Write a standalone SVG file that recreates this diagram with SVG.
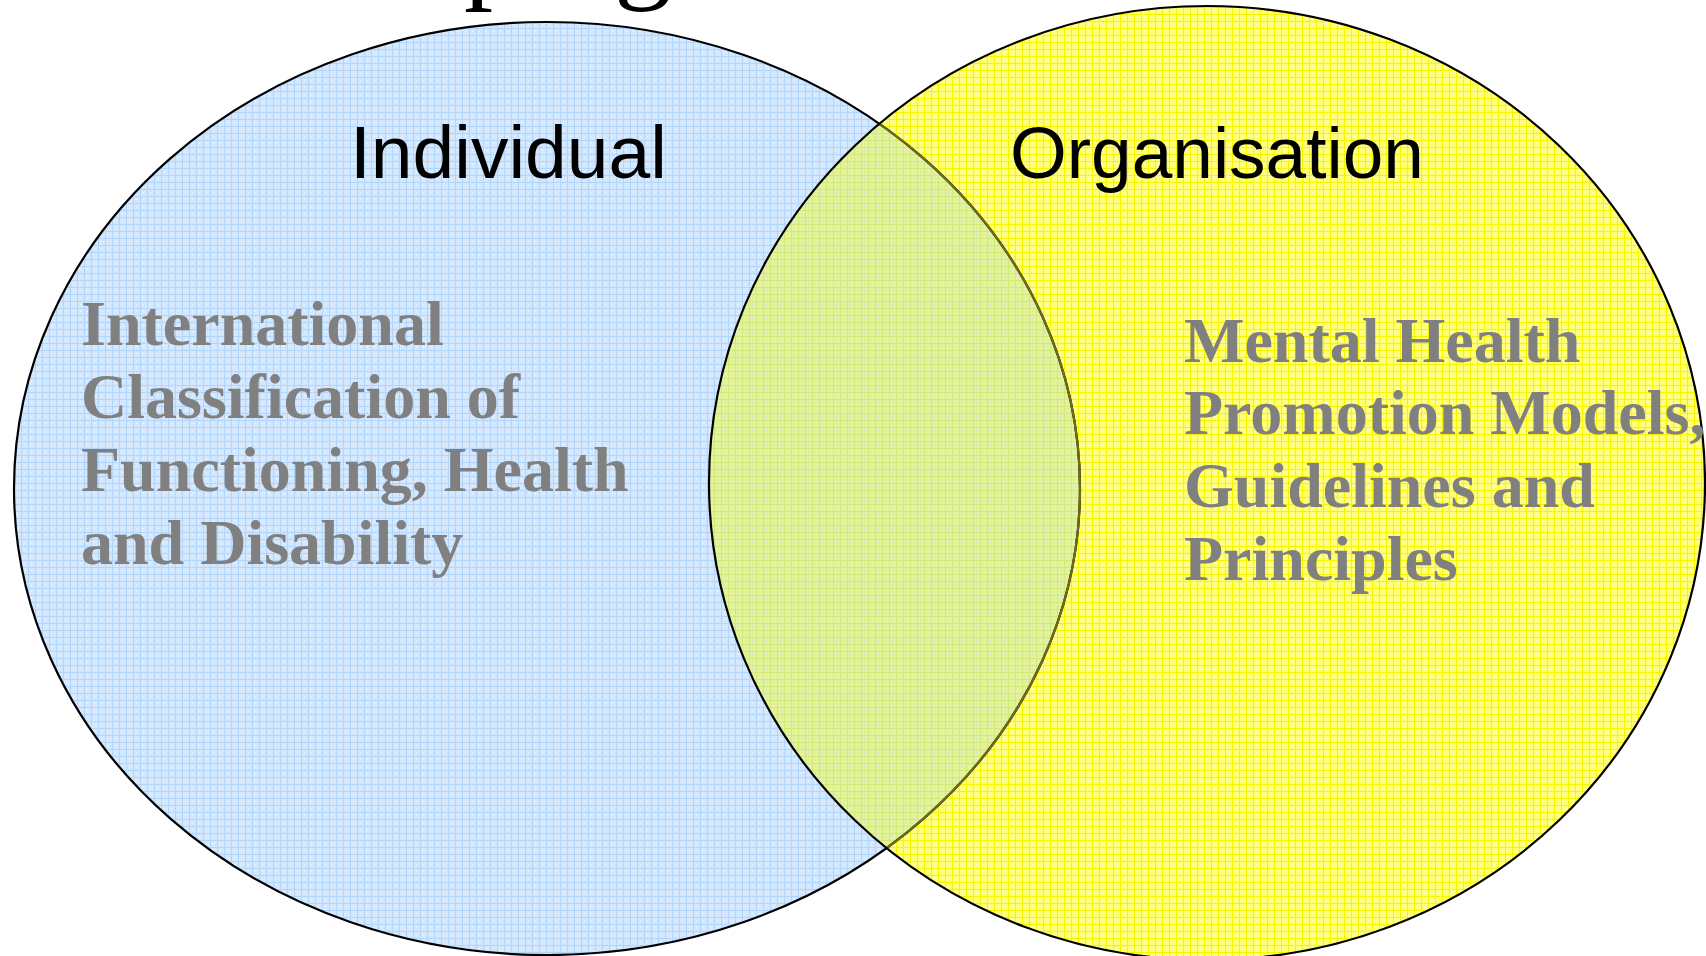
<svg xmlns="http://www.w3.org/2000/svg" width="1706" height="956" viewBox="0 0 1706 956">
  <defs>
    <pattern id="patBlue" width="7" height="7" patternUnits="userSpaceOnUse">
      <rect width="7" height="7" fill="#D3E8FF"/>
      <rect x="0" y="0" width="1" height="7" fill="#B2D5FA"/>
      <rect x="0" y="0" width="7" height="1" fill="#B2D5FA"/>
      <rect x="3" y="3" width="1" height="1" fill="#F2F8FF"/>
    </pattern>
    <pattern id="patYellow" width="7" height="7" patternUnits="userSpaceOnUse">
      <rect width="7" height="7" fill="#FFFF7A"/>
      <rect x="0" y="0" width="1" height="7" fill="#F5F500"/>
      <rect x="0" y="0" width="7" height="1" fill="#F5F500"/>
      <rect x="3" y="3" width="1" height="1" fill="#FFFFE0"/>
    </pattern>
    <pattern id="patLens" width="7" height="7" patternUnits="userSpaceOnUse">
      <rect width="7" height="7" fill="#E2F39C"/>
      <rect x="0" y="0" width="1" height="7" fill="#D2E878"/>
      <rect x="0" y="0" width="7" height="1" fill="#D2E878"/>
      <rect x="3" y="3" width="1" height="1" fill="#C8E2F0"/>
    </pattern>
    <clipPath id="clipRight">
      <ellipse cx="1207" cy="483" rx="498" ry="477"/>
    </clipPath>
  </defs>
  <style>
    .outline { fill: none; stroke: #000; stroke-width: 2.2; }
    .head { font-family: "Liberation Sans", Arial, sans-serif; font-size: 73px; fill: #000; }
    .body { font-family: "Liberation Serif", "Times New Roman", serif; font-weight: bold; font-size: 64px; fill: #808080; }
    .title { font-family: "Liberation Serif", "Times New Roman", serif; font-size: 116px; fill: #000; }
  </style>

  <g id="title">
    <text class="title" x="464" y="-13">p</text>
    <text class="title" x="614" y="-13">g</text>
  </g>

  <g id="shapes">
    <ellipse id="ellipse-individual" cx="547" cy="488.5" rx="533" ry="466.5" fill="url(#patBlue)"/>
    <ellipse id="ellipse-organisation" cx="1207" cy="483" rx="498" ry="477" fill="url(#patYellow)"/>
    <ellipse id="lens" cx="547" cy="488.5" rx="533" ry="466.5" fill="url(#patLens)" clip-path="url(#clipRight)"/>
    <ellipse class="outline" cx="547" cy="488.5" rx="533" ry="466.5"/>
    <ellipse cx="547" cy="488.5" rx="533" ry="466.5" fill="none" stroke="#6E6A1E" stroke-width="2.2" clip-path="url(#clipRight)"/>
    <ellipse class="outline" cx="1207" cy="483" rx="498" ry="477"/>
  </g>

  <g id="node-individual">
    <text class="head" x="350" y="178" style="font-size:75px">Individual</text>
    <text class="body" x="81" y="345">International</text>
    <text class="body" x="81" y="418">Classification of</text>
    <text class="body" x="81" y="491">Functioning, Health</text>
    <text class="body" x="81" y="564">and Disability</text>
  </g>

  <g id="node-organisation">
    <text class="head" x="1010" y="178">Organisation</text>
    <text class="body" x="1184" y="362">Mental Health</text>
    <text class="body" x="1184" y="434">Promotion Models,</text>
    <text class="body" x="1184" y="507">Guidelines and</text>
    <text class="body" x="1184" y="580">Principles</text>
  </g>
</svg>
